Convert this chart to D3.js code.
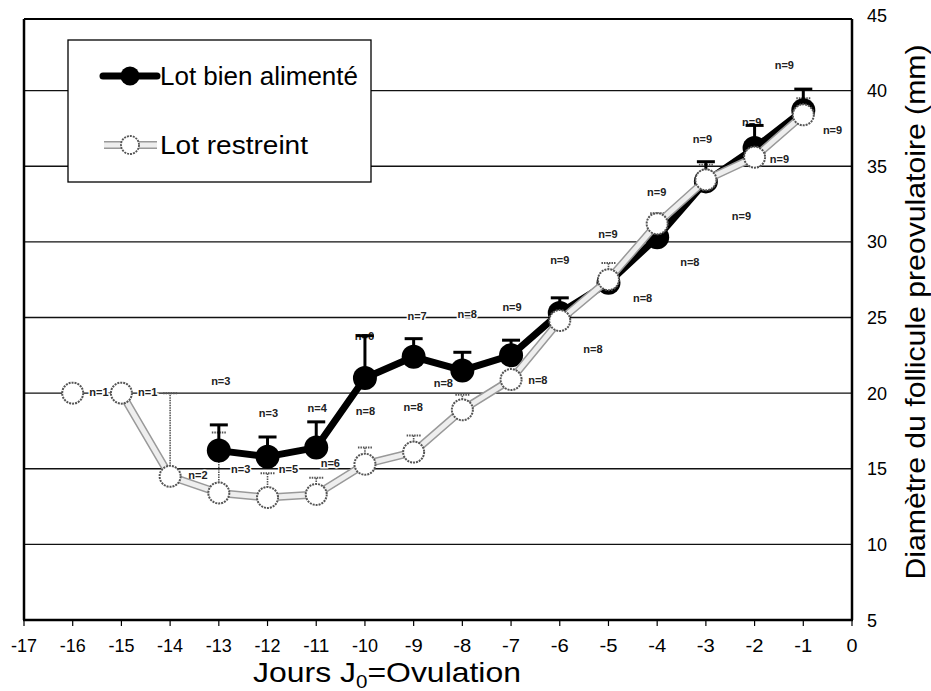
<!DOCTYPE html>
<html><head><meta charset="utf-8">
<script src="https://cdn.jsdelivr.net/npm/d3@7"></script>
<style>body{margin:0;background:#fff}svg{display:block}text{font-family:"Liberation Sans",Arial,sans-serif}</style>
</head><body><svg id="c" width="931" height="691"></svg>
<script>
const days = [-16,-15,-14,-13,-12,-11,-10,-9,-8,-7,-6,-5,-4,-3,-2,-1];
const bienValues = [null,null,null,16.2,15.8,16.4,21.0,22.4,21.5,22.5,25.3,27.3,30.3,34.0,36.2,38.7];
const bienErr    = [null,null,null,1.7,1.3,1.7,2.8,1.2,1.2,1.0,1.0,null,null,1.3,1.5,1.4];
const restreintValues = [20.0,20.0,14.5,13.4,13.1,13.3,15.3,16.1,18.9,20.9,24.8,27.5,31.2,34.1,35.6,38.4];
const restreintErr    = [null,null,5.5,4.0,1.6,1.1,1.1,1.1,1.0,null,null,1.1,0.7,1.0,null,1.1];
const xTicks = d3.range(-17,1);
const yTicks = [5,10,15,20,25,30,35,40,45];
const gridValues = [10,15,20,25,30,35,40];
const labelDays   = [-15.46,-14.46,-12.96,-11.98,-10.98,-10.01,-8.93,-7.90,-6.98,-6.0,-5.01,-4.01,-3.07,-2.06,-1.39,-0.40,-1.49,-2.27,-3.33,-4.30,-5.32,-6.45,-8.39,-9.01,-9.99,-10.71,-11.57,-12.55,-13.43];
const labelValues = [20.05,20.05,20.8,18.7,19.0,23.8,25.1,25.2,25.7,28.8,30.5,33.3,36.8,37.9,41.7,37.4,35.5,31.7,28.7,26.3,22.9,20.9,20.7,19.1,18.8,15.4,15.0,15.0,14.6];
const labelTexts  = ["n=1","n=1","n=3","n=3","n=4","n=6","n=7","n=8","n=9","n=9","n=9","n=9","n=9","n=9","n=9","n=9","n=9","n=9","n=8","n=8","n=8","n=8","n=8","n=8","n=8","n=6","n=5","n=3","n=2"];
const seriesNames = ["Lot bien alimenté","Lot restreint"];

const svg = d3.select("#c");
const x = d3.scaleLinear().domain([-17,0]).range([24,852]);
const y = d3.scaleLinear().domain([5,45]).range([620,15]);
const frameTop = 19;

// gridlines
svg.append("g").selectAll("line").data(gridValues).join("line")
  .attr("x1",x(-17)).attr("x2",x(0)).attr("y1",d=>y(d)).attr("y2",d=>y(d))
  .attr("stroke","#111").attr("stroke-width",1.4);

// frame
const fr = svg.append("g").attr("stroke","#000").attr("fill","none");
fr.append("line").attr("x1",x(-17)).attr("x2",x(0)).attr("y1",frameTop).attr("y2",frameTop).attr("stroke-width",2.2);
fr.append("line").attr("x1",x(-17)).attr("x2",x(-17)).attr("y1",frameTop).attr("y2",y(5)).attr("stroke-width",2.5);
fr.append("line").attr("x1",x(0)).attr("x2",x(0)).attr("y1",frameTop).attr("y2",y(5)).attr("stroke-width",2.5);
fr.append("line").attr("x1",x(-17)-1).attr("x2",x(0)+1).attr("y1",y(5)).attr("y2",y(5)).attr("stroke-width",2.5);

// x axis ticks & labels
svg.append("g").selectAll("line").data(xTicks).join("line")
  .attr("x1",d=>x(d)).attr("x2",d=>x(d)).attr("y1",y(5)+1).attr("y2",y(5)+6)
  .attr("stroke","#000").attr("stroke-width",1.2);
svg.append("g").selectAll("text").data(xTicks).join("text")
  .attr("x",d=>x(d)).attr("y",652).attr("text-anchor","middle")
  .attr("font-size",19).attr("textLength",d=>String(d).length>2?26:(String(d).length>1?18:11)).attr("lengthAdjust","spacingAndGlyphs")
  .text(d=>d);
// y labels
svg.append("g").selectAll("text").data(yTicks).join("text")
  .attr("x",867).attr("y",d=>y(d)+6.5).attr("font-size",18).text(d=>d);

// titles
const xt = svg.append("text").attr("x",387).attr("y",682).attr("text-anchor","middle").attr("font-size",28)
  .attr("textLength",268).attr("lengthAdjust","spacingAndGlyphs");
xt.append("tspan").text("Jours J");
xt.append("tspan").attr("font-size",18).attr("dy",6).text("0");
xt.append("tspan").attr("dy",-6).text("=Ovulation");
svg.append("text").attr("transform","translate(925,312) rotate(-90)").attr("text-anchor","middle")
  .attr("font-size",28).attr("textLength",535).attr("lengthAdjust","spacingAndGlyphs")
  .text("Diamètre du follicule preovulatoire (mm)");

const bien = days.map((d,i)=>({d,v:bienValues[i],e:bienErr[i]})).filter(p=>p.v!=null);
const restr = days.map((d,i)=>({d,v:restreintValues[i],e:restreintErr[i]}));
const line = d3.line().x(p=>x(p.d)).y(p=>y(p.v));

// n labels (with white halo)
svg.append("g").selectAll("text").data(labelTexts).join("text")
  .attr("x",(d,i)=>x(labelDays[i])).attr("y",(d,i)=>y(labelValues[i])+4)
  .attr("text-anchor","middle").attr("font-size",11).attr("font-weight","bold").attr("fill","#222")
  .attr("stroke","#fff").attr("stroke-width",3).attr("paint-order","stroke")
  .text(d=>d);

// restreint error bars (dotted gray)
const re = svg.append("g").attr("stroke","#555").attr("stroke-width",1.6).attr("stroke-dasharray","1.5,1");
restr.filter(p=>p.e!=null).forEach(p=>{
  re.append("line").attr("x1",x(p.d)).attr("x2",x(p.d)).attr("y1",y(p.v)).attr("y2",y(p.v+p.e));
  re.append("line").attr("x1",x(p.d)-7).attr("x2",x(p.d)+7).attr("y1",y(p.v+p.e)).attr("y2",y(p.v+p.e)).attr("stroke-width",2);
});

// bien alimenté
svg.append("path").datum(bien).attr("d",line).attr("fill","none").attr("stroke","#000").attr("stroke-width",7).attr("stroke-linejoin","round");
const be = svg.append("g").attr("stroke","#000").attr("stroke-width",3);
bien.filter(p=>p.e!=null).forEach(p=>{
  be.append("line").attr("x1",x(p.d)).attr("x2",x(p.d)).attr("y1",y(p.v)).attr("y2",y(p.v+p.e));
  be.append("line").attr("x1",x(p.d)-9).attr("x2",x(p.d)+9).attr("y1",y(p.v+p.e)).attr("y2",y(p.v+p.e));
});
svg.append("g").selectAll("circle").data(bien).join("circle")
  .attr("cx",p=>x(p.d)).attr("cy",p=>y(p.v)).attr("r",12).attr("fill","#000");

// restreint (segment -16 to -15 is hidden behind its label in the reference)
svg.append("path").datum(restr.slice(1)).attr("d",line).attr("fill","none").attr("stroke","#999").attr("stroke-width",8).attr("stroke-linejoin","round");
svg.append("path").datum(restr.slice(1)).attr("d",line).attr("fill","none").attr("stroke","#eee").attr("stroke-width",5).attr("stroke-linejoin","round");
svg.append("g").selectAll("circle").data(restr).join("circle")
  .attr("cx",p=>x(p.d)).attr("cy",p=>y(p.v)).attr("r",10.5).attr("fill","#fff")
  .attr("stroke","#555").attr("stroke-width",2).attr("stroke-dasharray","2,1");

// legend
const lg = svg.append("g");
lg.append("rect").attr("x",68).attr("y",40).attr("width",303).attr("height",142).attr("fill","#fff").attr("stroke","#000").attr("stroke-width",1.3);
lg.append("line").attr("x1",103).attr("x2",157).attr("y1",76).attr("y2",76).attr("stroke","#000").attr("stroke-width",7).attr("stroke-linecap","round");
lg.append("circle").attr("cx",130).attr("cy",76).attr("r",9.5).attr("fill","#000");
lg.append("line").attr("x1",104).attr("x2",157).attr("y1",145).attr("y2",145).attr("stroke","#999").attr("stroke-width",8);
lg.append("line").attr("x1",104).attr("x2",157).attr("y1",145).attr("y2",145).attr("stroke","#eee").attr("stroke-width",5);
lg.append("circle").attr("cx",130).attr("cy",145).attr("r",9).attr("fill","#fff").attr("stroke","#555").attr("stroke-width",1.8).attr("stroke-dasharray","2,1");
lg.append("text").attr("x",160).attr("y",85).attr("font-size",25).attr("textLength",198).attr("lengthAdjust","spacingAndGlyphs").text(seriesNames[0]);
lg.append("text").attr("x",160).attr("y",154).attr("font-size",25).attr("textLength",148).attr("lengthAdjust","spacingAndGlyphs").text(seriesNames[1]);
</script></body></html>
